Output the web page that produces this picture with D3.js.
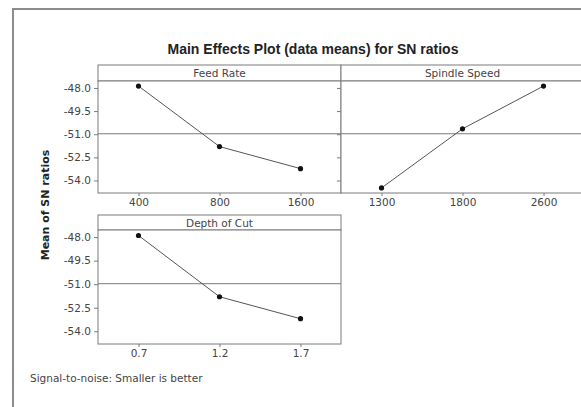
<!DOCTYPE html>
<html>
<head>
<meta charset="utf-8">
<script src="https://cdn.jsdelivr.net/npm/d3@7"></script>
<style>
  html, body { margin: 0; padding: 0; background: #ffffff; }
  svg { display: block; }
</style>
</head>
<body>
<svg id="chart" width="581" height="407"></svg>
<script>
// ---- data ----
const chartTitle = "Main Effects Plot (data means) for SN ratios";
const yTitle = "Mean of SN ratios";
const footnote = "Signal-to-noise: Smaller is better";
const factorNames = ["Feed Rate", "Spindle Speed", "Depth of Cut"];
const feedLevels = ["400", "800", "1600"];
const feedMeans = [-47.88, -51.80, -53.23];
const spindleLevels = ["1300", "1800", "2600"];
const spindleMeans = [-54.48, -50.65, -47.88];
const depthLevels = ["0.7", "1.2", "1.7"];
const depthMeans = [-47.90, -51.80, -53.20];
const yTickValues = [-48.0, -49.5, -51.0, -52.5, -54.0];

// ---- layout ----
const svg = d3.select("#chart");
const W = 581, H = 407;
const panelW = 243;
const panels = [
  { name: factorNames[0], levels: feedLevels, means: feedMeans, x0: 98, stripTop: 65, plotTop: 81, plotBot: 193, yLabels: true },
  { name: factorNames[1], levels: spindleLevels, means: spindleMeans, x0: 341, stripTop: 65, plotTop: 81, plotBot: 193, yLabels: false },
  { name: factorNames[2], levels: depthLevels, means: depthMeans, x0: 98, stripTop: 215, plotTop: 230, plotBot: 344, yLabels: true }
];

const allMeans = feedMeans.concat(spindleMeans, depthMeans);
const ext = d3.extent(allMeans);
const pad = (ext[1] - ext[0]) * 0.05;
const yDomain = [ext[0] - pad, ext[1] + pad];
// grand mean from each factor's level means (balanced design)
const grandMean = d3.mean(feedMeans);

const lineCol = "#7a7a7a";
const textCol = "#444";
const font = "DejaVu Sans, Verdana, sans-serif";
const fmt = d => d.toFixed(1);

svg.append("rect").attr("width", W).attr("height", H).attr("fill", "#fff");

// outer frame
svg.append("rect")
  .attr("x", 13).attr("y", 9)
  .attr("width", W + 20).attr("height", H + 20)
  .attr("fill", "none").attr("stroke", "#8c8c8c").attr("stroke-width", 2);

// title
svg.append("text")
  .attr("x", 313).attr("y", 54)
  .attr("text-anchor", "middle")
  .attr("font-family", "Liberation Sans, Arial, sans-serif")
  .attr("font-weight", "bold").attr("font-size", 14)
  .attr("fill", "#222")
  .text(chartTitle);

panels.forEach(p => {
  const g = svg.append("g");
  const x = d3.scalePoint().domain(p.levels).range([p.x0, p.x0 + panelW]).padding(0.5);
  const y = d3.scaleLinear().domain(yDomain).range([p.plotBot, p.plotTop]);

  // strip
  g.append("rect")
    .attr("x", p.x0).attr("y", p.stripTop)
    .attr("width", panelW).attr("height", p.plotTop - p.stripTop)
    .attr("fill", "#fff").attr("stroke", lineCol).attr("stroke-width", 1);
  g.append("text")
    .attr("x", p.x0 + panelW / 2).attr("y", (p.stripTop + p.plotTop) / 2 + 4)
    .attr("text-anchor", "middle")
    .attr("font-family", font).attr("font-size", 10.5).attr("fill", textCol)
    .text(p.name);

  // plot frame
  g.append("rect")
    .attr("x", p.x0).attr("y", p.plotTop)
    .attr("width", panelW).attr("height", p.plotBot - p.plotTop)
    .attr("fill", "#fff").attr("stroke", lineCol).attr("stroke-width", 1);

  // reference (grand mean) line
  g.append("line")
    .attr("x1", p.x0).attr("x2", p.x0 + panelW)
    .attr("y1", y(grandMean)).attr("y2", y(grandMean))
    .attr("stroke", lineCol).attr("stroke-width", 1);

  // x axis
  const xAxis = g.append("g")
    .attr("transform", `translate(0,${p.plotBot})`)
    .call(d3.axisBottom(x).tickSize(3).tickPadding(3));
  xAxis.select(".domain").remove();
  xAxis.selectAll("line").attr("stroke", lineCol);
  xAxis.selectAll("text").attr("font-family", font).attr("font-size", 10.5).attr("fill", textCol);

  // y axis
  const yAxis = g.append("g")
    .attr("transform", `translate(${p.x0},0)`)
    .call(d3.axisLeft(y).tickValues(yTickValues)
      .tickFormat(p.yLabels ? fmt : () => "")
      .tickSize(4).tickPadding(3));
  yAxis.select(".domain").remove();
  yAxis.selectAll("line").attr("stroke", lineCol);
  yAxis.selectAll("text").attr("font-family", font).attr("font-size", 10.5).attr("fill", textCol);

  // data line + points
  const pts = p.levels.map((l, i) => [x(l), y(p.means[i])]);
  g.append("path")
    .attr("d", d3.line()(pts))
    .attr("fill", "none").attr("stroke", "#555").attr("stroke-width", 1);
  g.selectAll("circle.pt").data(pts).enter().append("circle")
    .attr("class", "pt")
    .attr("cx", d => d[0]).attr("cy", d => d[1]).attr("r", 2.6)
    .attr("fill", "#111");
});

// y-axis title
svg.append("text")
  .attr("transform", "translate(49,205) rotate(-90)")
  .attr("text-anchor", "middle")
  .attr("font-family", font).attr("font-weight", "bold").attr("font-size", 11)
  .attr("fill", "#222")
  .text(yTitle);

// footnote
svg.append("text")
  .attr("x", 30).attr("y", 382)
  .attr("font-family", font).attr("font-size", 10.5).attr("fill", textCol)
  .text(footnote);
</script>
</body>
</html>
